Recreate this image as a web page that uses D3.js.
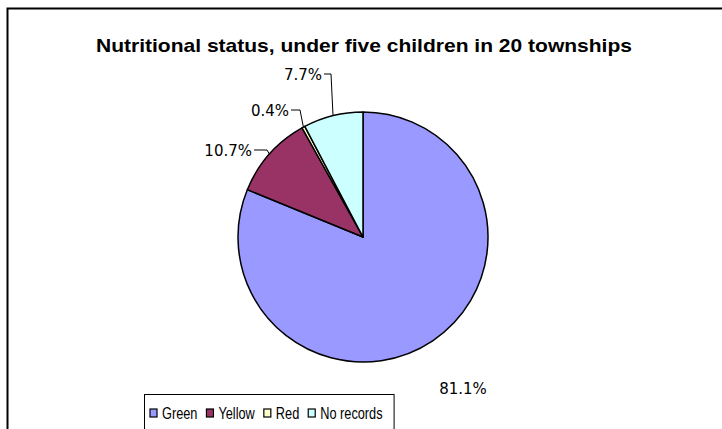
<!DOCTYPE html>
<html>
<head>
<meta charset="utf-8">
<script src="https://cdn.jsdelivr.net/npm/d3@7"></script>
<style>
  html, body { margin: 0; padding: 0; background: #fff; }
  svg { display: block; }
</style>
</head>
<body>
<svg id="chart" width="722" height="429"></svg>
<script>
// Nutritional status of under-five children across 20 townships
const categories = ["Green", "Yellow", "Red", "No records"];
const values = [81.1, 10.7, 0.4, 7.7];
const labels = ["81.1%", "10.7%", "0.4%", "7.7%"];
const colors = ["#9999FF", "#993366", "#FFFFCC", "#CCFFFF"];
const title = "Nutritional status, under five children in 20 townships";

const svg = d3.select("#chart");

// chart frame (only top and left edges fall inside the window)
svg.append("rect")
  .attr("x", 7.5).attr("y", 8.5)
  .attr("width", 730).attr("height", 440)
  .attr("fill", "#fff").attr("stroke", "#000").attr("stroke-width", 2);

// title
svg.append("text")
  .attr("x", 364).attr("y", 52)
  .attr("text-anchor", "middle")
  .attr("font-family", "'Liberation Sans', Arial, sans-serif")
  .attr("font-weight", "bold")
  .attr("font-size", 19)
  .attr("fill", "#000")
  .attr("textLength", 536)
  .attr("lengthAdjust", "spacingAndGlyphs")
  .text(title);

// pie
const cx = 363, cy = 237, r = 125;
const pie = d3.pie().sort(null).value(d => d)(values);
const arc = d3.arc().innerRadius(0).outerRadius(r);
const g = svg.append("g").attr("transform", `translate(${cx},${cy})`);

g.selectAll("path.slice")
  .data(pie)
  .join("path")
  .attr("class", "slice")
  .attr("d", arc)
  .attr("fill", (d, i) => colors[i])
  .attr("stroke", "#000")
  .attr("stroke-width", 1.5)
  .attr("stroke-linejoin", "round");

// point on rim at a given angle (clockwise from 12 o'clock)
const rim = (a, rr) => [rr * Math.sin(a), -rr * Math.cos(a)];

const labelFont = "'DejaVu Sans', Verdana, sans-serif";
const labelSize = 15;

// label positions relative to centre, chosen per slice
const labelSpec = [
  { dx: 100, dy: 157, anchor: "middle", leader: false },
  { dx: -111, dy: -81, anchor: "end", leader: true, elbow: [-96, -87] },
  { dx: -74, dy: -121, anchor: "end", leader: true, elbow: [-63, -127] },
  { dx: -41, dy: -157, anchor: "end", leader: true, elbow: [-32, -163] }
];

pie.forEach((d, i) => {
  const s = labelSpec[i];
  const mid = (d.startAngle + d.endAngle) / 2;
  if (s.leader) {
    const p = rim(mid, r);
    const start = [s.dx + 2, s.elbow[1]];
    g.append("path")
      .attr("d", d3.line()([start, s.elbow, p]))
      .attr("fill", "none")
      .attr("stroke", "#000")
      .attr("stroke-width", 1);
  }
  g.append("text")
    .attr("x", s.dx).attr("y", s.dy)
    .attr("text-anchor", s.anchor)
    .attr("font-family", labelFont)
    .attr("font-size", labelSize)
    .attr("fill", "#000")
    .text(labels[i]);
});

// legend: entries condensed horizontally to a narrow face
const legFont = "'Liberation Sans', Arial, sans-serif";
const legSize = 17;
const condense = 0.75;
const legend = svg.append("g");
const items = legend.selectAll("g.item").data(categories).join("g").attr("class", "item");
items.append("rect")
  .attr("width", 7).attr("height", 8)
  .attr("y", -10)
  .attr("fill", (d, i) => colors[i])
  .attr("stroke", "#000")
  .attr("stroke-width", 1.2);
items.append("text")
  .attr("x", 12).attr("y", 0)
  .attr("font-family", legFont)
  .attr("font-size", legSize)
  .attr("fill", "#000")
  .text(d => d)
  .each(function() {
    const w = this.getComputedTextLength();
    d3.select(this).attr("textLength", w * condense).attr("lengthAdjust", "spacingAndGlyphs");
  });

let x = 0;
items.each(function() {
  const tw = +d3.select(this).select("text").attr("textLength");
  d3.select(this).attr("transform", `translate(${x},0)`);
  x += 12 + tw + 9;
});
const totalW = x - 9;
legend.attr("transform", `translate(150,419)`);
svg.insert("rect", "g")
  .attr("x", 144.5).attr("y", 394.5)
  .attr("width", totalW + 17).attr("height", 40)
  .attr("fill", "#fff").attr("stroke", "#000").attr("stroke-width", 1);
</script>
</body>
</html>
